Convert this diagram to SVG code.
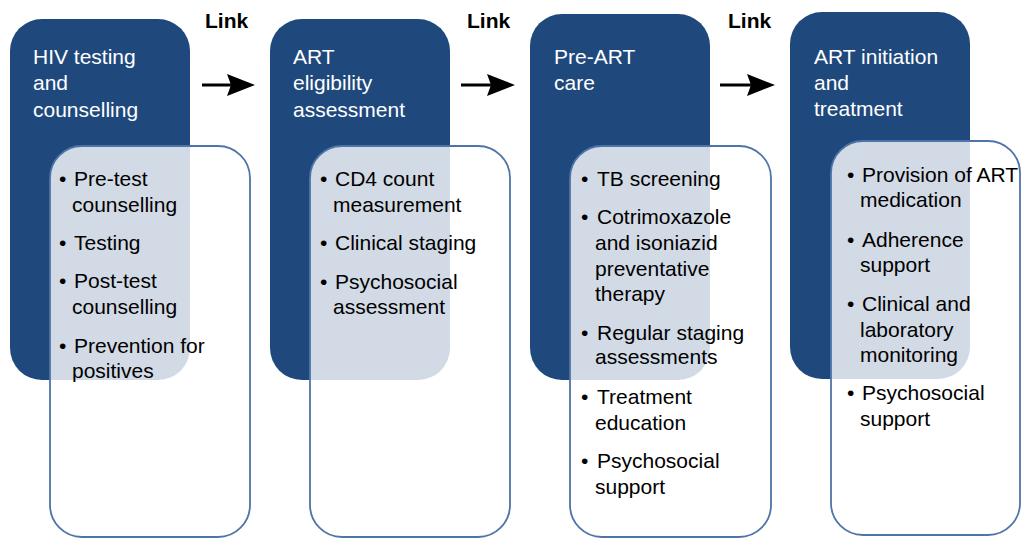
<svg xmlns="http://www.w3.org/2000/svg" width="1021" height="538" viewBox="0 0 1021 538">
<defs>
<style>
.stage{fill:#1f497d;}
.title{fill:#ffffff;font-family:"Liberation Sans",Arial,sans-serif;font-size:21px;}
.panel{fill:#ffffff;fill-opacity:0.8;stroke:#4f74a8;stroke-width:1.8;}
.item{fill:#000000;font-family:"Liberation Sans",Arial,sans-serif;font-size:21px;}
.link{fill:#000000;font-family:"Liberation Sans",Arial,sans-serif;font-size:21px;font-weight:bold;}
.conn{stroke:#000000;stroke-width:3;fill:none;marker-end:url(#arrow);}
</style>
<marker id="arrow" markerUnits="userSpaceOnUse" markerWidth="28" markerHeight="24" refX="19" refY="12" orient="auto">
<path d="M0,1 L28,12 L0,23 L4,12 Z" fill="#000000"/>
</marker>
</defs>
<rect width="1021" height="538" fill="#ffffff"/>

<g id="node-hiv-testing">
<rect class="stage" x="10" y="19" width="180" height="361" rx="32" ry="32"/>
<text class="title"><tspan x="33" y="64">HIV testing</tspan><tspan x="33" y="90">and</tspan><tspan x="33" y="117">counselling</tspan></text>
<rect class="panel" x="50" y="146" width="200" height="391" rx="32" ry="32"/>
<text class="item"><tspan x="59" y="186">•</tspan><tspan x="74" y="186">Pre-test</tspan><tspan x="72" y="212">counselling</tspan><tspan x="59" y="250">•</tspan><tspan x="74" y="250">Testing</tspan><tspan x="59" y="288">•</tspan><tspan x="74" y="288">Post-test</tspan><tspan x="72" y="314">counselling</tspan><tspan x="59" y="353">•</tspan><tspan x="74" y="353">Prevention for</tspan><tspan x="72" y="378">positives</tspan></text>
</g>

<g id="node-art-eligibility">
<rect class="stage" x="270" y="19" width="180" height="361" rx="32" ry="32"/>
<text class="title"><tspan x="293" y="64">ART</tspan><tspan x="293" y="90">eligibility</tspan><tspan x="293" y="117">assessment</tspan></text>
<rect class="panel" x="310" y="146" width="200" height="391" rx="32" ry="32"/>
<text class="item"><tspan x="320" y="186">•</tspan><tspan x="335" y="186">CD4 count</tspan><tspan x="333" y="212">measurement</tspan><tspan x="320" y="250">•</tspan><tspan x="335" y="250">Clinical staging</tspan><tspan x="320" y="289">•</tspan><tspan x="335" y="289">Psychosocial</tspan><tspan x="333" y="314">assessment</tspan></text>
</g>

<g id="node-pre-art-care">
<rect class="stage" x="530" y="14" width="180" height="366" rx="32" ry="32"/>
<text class="title"><tspan x="554" y="64">Pre-ART</tspan><tspan x="554" y="90">care</tspan></text>
<rect class="panel" x="570" y="146" width="201" height="391" rx="32" ry="32"/>
<text class="item"><tspan x="581" y="186">•</tspan><tspan x="597" y="186">TB screening</tspan><tspan x="581" y="224">•</tspan><tspan x="597" y="224">Cotrimoxazole</tspan><tspan x="595" y="250">and isoniazid</tspan><tspan x="595" y="276">preventative</tspan><tspan x="595" y="301">therapy</tspan><tspan x="581" y="340">•</tspan><tspan x="597" y="340">Regular staging</tspan><tspan x="595" y="364">assessments</tspan><tspan x="581" y="404">•</tspan><tspan x="597" y="404">Treatment</tspan><tspan x="595" y="430">education</tspan><tspan x="581" y="468">•</tspan><tspan x="597" y="468">Psychosocial</tspan><tspan x="595" y="494">support</tspan></text>
</g>

<g id="node-art-initiation">
<rect class="stage" x="790" y="12" width="180" height="367" rx="32" ry="32"/>
<text class="title"><tspan x="814" y="64">ART initiation</tspan><tspan x="814" y="90">and</tspan><tspan x="814" y="116">treatment</tspan></text>
<rect class="panel" x="831" y="141" width="189" height="394" rx="32" ry="32"/>
<text class="item"><tspan x="847" y="182">•</tspan><tspan x="862" y="182">Provision of ART</tspan><tspan x="860" y="207">medication</tspan><tspan x="847" y="247">•</tspan><tspan x="862" y="247">Adherence</tspan><tspan x="860" y="272">support</tspan><tspan x="847" y="311">•</tspan><tspan x="862" y="311">Clinical and</tspan><tspan x="860" y="337">laboratory</tspan><tspan x="860" y="362">monitoring</tspan><tspan x="847" y="400">•</tspan><tspan x="862" y="400">Psychosocial</tspan><tspan x="860" y="426">support</tspan></text>
</g>

<g id="connectors">
<line class="conn" x1="202" y1="85" x2="246" y2="85"/>
<text class="link" x="205" y="28">Link</text>
<line class="conn" x1="461" y1="85" x2="506" y2="85"/>
<text class="link" x="467" y="28">Link</text>
<line class="conn" x1="720" y1="85" x2="766" y2="85"/>
<text class="link" x="728" y="28">Link</text>
</g>
</svg>
